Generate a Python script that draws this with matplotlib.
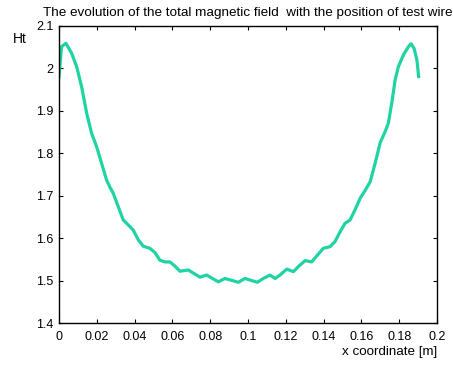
import matplotlib
matplotlib.use('Agg')
import matplotlib.pyplot as plt
from matplotlib.ticker import FuncFormatter

# x position of test wire [m] and total field Ht
x_pos = [0.0, 0.0014, 0.0037, 0.0067, 0.0094, 0.012, 0.0147, 0.0173, 0.0199,
         0.0226, 0.0252, 0.0272, 0.0287, 0.0314, 0.034, 0.0367, 0.0393, 0.042,
         0.0446, 0.0481, 0.0508, 0.0534, 0.0561, 0.0587, 0.0614, 0.064, 0.0684,
         0.0746, 0.0781, 0.0843, 0.0878, 0.0949, 0.0984, 0.1049, 0.1081, 0.1116,
         0.1143, 0.1169, 0.1205, 0.124, 0.1266, 0.1302, 0.1337, 0.1363, 0.1398,
         0.1434, 0.146, 0.1487, 0.1513, 0.154, 0.1566, 0.1593, 0.162, 0.1646,
         0.1663, 0.1681, 0.1698, 0.1725, 0.1742, 0.176, 0.1778, 0.1795, 0.1822,
         0.1848, 0.1862, 0.1878, 0.1893, 0.1903]
ht = [1.977, 2.051, 2.059, 2.036, 2.004, 1.957, 1.894, 1.847, 1.816,
      1.776, 1.737, 1.718, 1.706, 1.674, 1.643, 1.631, 1.619, 1.596,
      1.581, 1.576, 1.566, 1.548, 1.544, 1.544, 1.534, 1.522, 1.525,
      1.508, 1.513, 1.497, 1.505, 1.496, 1.505, 1.496, 1.505, 1.513,
      1.505, 1.513, 1.527, 1.521, 1.533, 1.547, 1.544, 1.558, 1.576,
      1.580, 1.592, 1.615, 1.635, 1.643, 1.667, 1.694, 1.713, 1.733,
      1.761, 1.792, 1.824, 1.851, 1.871, 1.918, 1.973, 2.004, 2.032,
      2.051, 2.058, 2.047, 2.020, 1.977]

x_ticks = [0, 0.02, 0.04, 0.06, 0.08, 0.1, 0.12, 0.14, 0.16, 0.18, 0.2]
y_ticks = [1.4, 1.5, 1.6, 1.7, 1.8, 1.9, 2.0, 2.1]

plt.rcParams['font.family'] = ['Liberation Sans', 'DejaVu Sans']

fig = plt.figure(figsize=(4.53, 3.65), dpi=100)
ax = fig.add_axes([0.130, 0.115, 0.835, 0.814])

ax.plot(x_pos, ht, color='#1fd3a2', linewidth=2.3,
        solid_joinstyle='round', solid_capstyle='butt')

ax.set_xlim(0, 0.2)
ax.set_ylim(1.4, 2.1)
ax.set_xticks(x_ticks)
ax.set_yticks(y_ticks)
fmt = FuncFormatter(lambda v, p: '%g' % round(v, 4))
ax.xaxis.set_major_formatter(fmt)
ax.yaxis.set_major_formatter(fmt)
ax.tick_params(direction='in', length=3, width=0.8, top=True, right=True,
               labelsize=9, colors='black', pad=4)
ax.tick_params(axis='x', pad=6)

for s in ax.spines.values():
    s.set_linewidth(1.0)
    s.set_color('black')

ax.set_title('The evolution of the total magnetic field  with the position of test wire',
             fontsize=9.7, pad=7)
fig.text(0.028, 0.892, 'Ht', fontsize=10, ha='left', va='center')
fig.text(0.965, 0.035, 'x coordinate [m]', fontsize=9.6, ha='right', va='center')

fig.savefig('out.png', dpi=100)
